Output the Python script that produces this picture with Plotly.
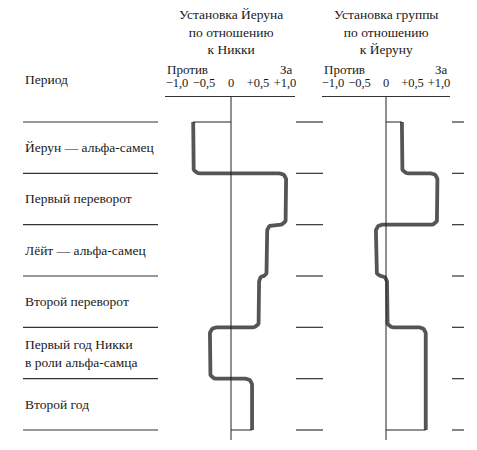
import numpy as np
import plotly.graph_objects as go

# ---- data ----
periods = ["Йерун — альфа-самец", "Первый переворот", "Лёйт — альфа-самец",
           "Второй переворот", "Первый год Никки<br>в роли альфа-самца", "Второй год"]
yeroen_to_nikkie = [-0.70, 1.02, 0.67, 0.52, -0.39, 0.39]
group_to_yeroen = [0.30, 0.97, -0.19, 0.02, 0.75, 0.75]
tick_vals = [-1.0, -0.5, 0.0, 0.5, 1.0]
tick_text = ["−1,0", "−0,5", "0", "+0,5", "+1,0"]
panel_titles = ["Установка Йеруна<br>по отношению<br>к Никки",
                "Установка группы<br>по отношению<br>к Йеруну"]

OFF = 8  # browser body margin
W, H = 477 - 2 * OFF, 450 - 2 * OFF
FONT = "Liberation Serif"
TXT = "#1a1a1a"
LINE = "#555555"


def px(x):
    return (x - OFF) / W


def py(y):
    return 1 - (y - OFF) / H


# pixel geometry of the page (window coordinates)
y_top_px, y_first_px, y_last_px = 97, 122, 430
px_per_period = (y_last_px - y_first_px) / len(periods)
y_range = [len(periods) + (H + OFF - y_last_px) / px_per_period,
           (y_top_px - y_first_px) / px_per_period]
ydom = [0, py(y_top_px)]

panels = [
    dict(zero=231, ppu=54, left=165, right=295, vals=yeroen_to_nikkie),
    dict(zero=386, ppu=53, left=322, right=450, vals=group_to_yeroen),
]


def rounded_path(vals, rx, ry, n=9):
    xs, ys = [vals[0]], [0.0]
    t = np.linspace(0, np.pi / 2, n)
    for k in range(1, len(vals)):
        a, b = vals[k - 1], vals[k]
        s = np.sign(b - a) if b != a else 1.0
        r = min(rx, abs(b - a) / 2)
        xs += list(a + s * r * (1 - np.cos(t)))
        ys += list(k - ry + ry * np.sin(t))
        xs += list(b - s * r * (1 - np.sin(t)))
        ys += list(k + ry * (1 - np.cos(t)))
    xs.append(vals[-1])
    ys.append(float(len(vals)))
    return xs, ys


fig = go.Figure()
shapes = []
annotations = []

for i, p in enumerate(panels):
    xa = "x" if i == 0 else "x2"
    ya = "y" if i == 0 else "y2"
    rx = 6.5 / p["ppu"]
    ry = 6.5 / px_per_period
    xs, ys = rounded_path(p["vals"], rx, ry)
    fig.add_trace(go.Scatter(x=xs, y=ys, mode="lines", xaxis=xa, yaxis=ya,
                             line=dict(color=LINE, width=3.8), hoverinfo="skip",
                             showlegend=False))
    fig.add_trace(go.Scatter(x=[0, p["vals"][0]], y=[0, 0], mode="lines", xaxis=xa, yaxis=ya,
                             line=dict(color="#222", width=1), hoverinfo="skip", showlegend=False))
    fig.add_trace(go.Scatter(x=[0, p["vals"][-1]], y=[len(periods)] * 2, mode="lines",
                             xaxis=xa, yaxis=ya,
                             line=dict(color="#222", width=1), hoverinfo="skip", showlegend=False))
    shapes.append(dict(type="line", xref=xa, yref="paper", x0=0, x1=0,
                       y0=py(440), y1=ydom[1], line=dict(color="#222", width=1)))
    annotations.append(dict(text=panel_titles[i], xref="paper", yref="paper",
                            x=px(p["zero"]), y=py(5), xanchor="center", yanchor="top",
                            showarrow=False, align="center",
                            font=dict(family=FONT, size=13.5, color=TXT)))
    annotations.append(dict(text="Против", xref="paper", yref="paper",
                            x=px(p["left"]), y=py(70), xanchor="left", yanchor="middle",
                            showarrow=False, font=dict(family=FONT, size=13, color=TXT)))
    annotations.append(dict(text="За", xref="paper", yref="paper",
                            x=px(p["right"]), y=py(70), xanchor="right", yanchor="middle",
                            showarrow=False, font=dict(family=FONT, size=13, color=TXT)))

for k in range(len(periods) + 1):
    for (x0, x1) in [(23, 158), (296, 323), (452, 464)]:
        shapes.append(dict(type="line", xref="paper", yref="y", x0=px(x0), x1=px(x1),
                           y0=k, y1=k, line=dict(color="#333", width=1.2)))

for k, lab in enumerate(periods):
    annotations.append(dict(text=lab, xref="paper", yref="y", x=px(23), y=k + 0.5,
                            xanchor="left", yanchor="middle", showarrow=False, align="left",
                            font=dict(family=FONT, size=13.5, color=TXT)))
annotations.append(dict(text="Период", xref="paper", yref="paper", x=px(23), y=py(80),
                        xanchor="left", yanchor="middle", showarrow=False,
                        font=dict(family=FONT, size=13.5, color=TXT)))


def xaxis_cfg(p, anchor):
    return dict(domain=[px(p["left"]), px(p["right"])],
                range=[(p["left"] - p["zero"]) / p["ppu"], (p["right"] - p["zero"]) / p["ppu"]],
                side="top", anchor=anchor, showline=True, linecolor="#333", linewidth=1.2,
                showgrid=False, zeroline=False, ticks="", tickvals=tick_vals,
                ticktext=tick_text, tickfont=dict(family=FONT, size=12.5, color=TXT),
                ticklabelstandoff=4, fixedrange=True)


def yaxis_cfg(anchor):
    return dict(domain=ydom, range=y_range, visible=False, anchor=anchor, fixedrange=True)


fig.update_layout(
    width=W, height=H, margin=dict(l=0, r=0, t=0, b=0),
    paper_bgcolor="white", plot_bgcolor="rgba(0,0,0,0)",
    xaxis=xaxis_cfg(panels[0], "y"), yaxis=yaxis_cfg("x"),
    xaxis2=xaxis_cfg(panels[1], "y2"), yaxis2=yaxis_cfg("x2"),
    shapes=shapes, annotations=annotations, showlegend=False,
)

fig.write_html("out.html")
